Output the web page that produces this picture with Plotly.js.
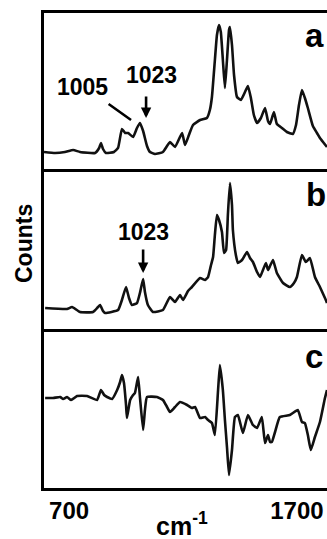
<!DOCTYPE html>
<html>
<head>
<meta charset="utf-8">
<script src="https://cdn.plot.ly/plotly-3.0.1.min.js"></script>
<style>html,body{margin:0;padding:0;background:#fff;}#chart{width:327px;height:539px;}</style>
</head>
<body>
<div id="chart"></div>
<script>
// Wavenumbers (cm^-1) and counts, panel a
const waveA = [590,639,682,718,748,814,832,840,849,862,897,915,932,946,959,981,998,1011,1025,1042,1055,1077,1112,1143,1165,1196,1209,1226,1244,1275,1305,1318,1327,1340,1349,1358,1366,1375,1384,1393,1402,1406,1415,1424,1437,1454,1472,1485,1498,1511,1525,1542,1560,1573,1582,1599,1612,1634,1656,1682,1696,1709,1722,1735,1748,1770,1788,1801,1818,1832];
const countsA = [17,16,17,19,17,16,21,26,20,16,17,21,40,36,36,32,41,46,38,23,17,15,17,27,22,36,24,34,44,49,51,59,72,109,134,144,137,109,81,109,139,142,124,94,72,69,77,83,71,54,46,51,61,48,45,57,45,41,37,35,44,64,79,71,61,43,36,31,26,22];

// Panel b
const waveB = [595,691,713,748,805,827,836,849,858,915,932,950,963,976,998,1011,1025,1033,1046,1068,1112,1143,1165,1187,1200,1222,1239,1275,1297,1310,1323,1332,1340,1349,1358,1371,1380,1389,1397,1406,1415,1419,1432,1441,1459,1481,1494,1507,1525,1538,1551,1564,1573,1582,1595,1612,1639,1669,1687,1700,1722,1739,1757,1779,1801,1823,1832];
const countsB = [21,20,22,17,17,22,24,18,16,19,29,42,31,24,26,36,50,37,24,17,19,32,27,34,29,38,42,51,49,52,64,72,94,114,109,97,76,79,114,146,124,99,74,66,69,77,71,67,57,52,59,66,59,63,69,56,46,42,46,52,74,67,71,52,42,31,26];

// Panel c (difference spectrum)
const waveC = [595,630,661,674,691,709,735,779,823,840,854,867,889,911,924,932,941,950,954,968,981,989,1003,1011,1025,1033,1042,1086,1112,1130,1143,1165,1187,1218,1239,1253,1275,1297,1310,1327,1340,1354,1362,1375,1384,1393,1402,1415,1428,1441,1463,1485,1507,1525,1546,1560,1573,1582,1590,1604,1625,1669,1704,1722,1735,1748,1761,1779,1801,1823,1832];
const countsC = [0,0,1,-1,1,-2,2,2,-2,8,3,1,-1,8,16,23,15,-7,-20,-2,3,5,21,1,-32,-12,1,1,-2,-9,-14,-9,-4,-7,-10,-9,-20,-19,-22,-25,-37,8,33,8,-22,-49,-77,-52,-19,-17,-35,-17,-27,-30,-19,-45,-37,-44,-44,-34,-19,-17,-12,-24,-25,-37,-52,-39,-24,0,8];

const tickVals = [700, 1700];
const tickText = ['700', '1700'];
const panelLetters = ['a', 'b', 'c'];
const peakLabelsA = ['1005', '1023'];
const peakLabelsB = ['1023'];

const FONT = 'Liberation Sans, Arial, Helvetica, sans-serif';
const lineStyle = {color: '#111', width: 2.6, shape: 'spline', smoothing: 0.4};
const txt = (s) => ({family: FONT, size: s, color: '#000', weight: 'bold'});

const traces = [
  {x: waveA, y: countsA, xaxis: 'x', yaxis: 'y', mode: 'lines', line: lineStyle, hoverinfo: 'skip'},
  {x: waveB, y: countsB, xaxis: 'x2', yaxis: 'y2', mode: 'lines', line: lineStyle, hoverinfo: 'skip'},
  {x: waveC, y: countsC, xaxis: 'x3', yaxis: 'y3', mode: 'lines', line: lineStyle, hoverinfo: 'skip'}
];

const xr = [590, 1832];
const axBase = {showline: true, linecolor: '#000', linewidth: 2.6, showgrid: false, zeroline: false, ticks: '', fixedrange: true};

const layout = {
  width: 327, height: 539,
  margin: {l: 44, r: 0, t: 13, b: 51},
  paper_bgcolor: '#fff', plot_bgcolor: '#fff',
  showlegend: false,
  font: {family: FONT, color: '#000', size: 22},
  xaxis: Object.assign({}, axBase, {anchor: 'y', range: xr, mirror: true, showticklabels: false}),
  xaxis2: Object.assign({}, axBase, {anchor: 'y2', range: xr, showticklabels: false}),
  xaxis3: Object.assign({}, axBase, {anchor: 'y3', range: xr, tickmode: 'array', tickvals: tickVals, ticktext: tickText, tickfont: txt(24)}),
  yaxis: Object.assign({}, axBase, {domain: [0.6716, 1], range: [0, 156], showticklabels: false}),
  yaxis2: Object.assign({}, axBase, {domain: [0.3347, 0.6695], range: [0, 159], showticklabels: false}),
  yaxis3: Object.assign({}, axBase, {domain: [0, 0.3326], range: [-90, 68], showticklabels: false}),
  annotations: [
    // panel letters
    {xref: 'x', yref: 'y', x: 1779, y: 134, text: panelLetters[0], showarrow: false, font: txt(33)},
    {xref: 'x2', yref: 'y2', x: 1783, y: 134, text: panelLetters[1], showarrow: false, font: txt(33)},
    {xref: 'x3', yref: 'y3', x: 1775, y: 42, text: panelLetters[2], showarrow: false, font: txt(33)},
    // panel a peak labels
    {xref: 'x', yref: 'y', x: 761, y: 82, text: peakLabelsA[0], showarrow: false, font: txt(23)},
    {xref: 'x', yref: 'y', x: 1060, y: 94, text: peakLabelsA[1], showarrow: false, font: txt(23)},
    {xref: 'x', yref: 'y', axref: 'x', ayref: 'y', x: 972, y: 49, ax: 867, ay: 66, text: '', showarrow: true, arrowhead: 0, arrowwidth: 2.6, arrowcolor: '#000'},
    {xref: 'x', yref: 'y', axref: 'x', ayref: 'y', x: 1038, y: 51, ax: 1038, ay: 74, text: '', showarrow: true, arrowhead: 2, arrowsize: 0.8, arrowwidth: 2.6, arrowcolor: '#000'},
    // panel b
    {xref: 'x2', yref: 'y2', x: 1025, y: 97, text: peakLabelsB[0], showarrow: false, font: txt(23)},
    {xref: 'x2', yref: 'y2', axref: 'x2', ayref: 'y2', x: 1025, y: 56, ax: 1025, ay: 81, text: '', showarrow: true, arrowhead: 2, arrowsize: 0.8, arrowwidth: 2.6, arrowcolor: '#000'},
    // axis titles
    {xref: 'paper', yref: 'paper', x: -0.0707, y: 0.5158, xanchor: 'center', yanchor: 'middle', textangle: -90, text: 'Counts', showarrow: false, font: txt(23)},
    {xref: 'paper', yref: 'paper', x: 0.4876, y: -0.1135, xanchor: 'center', yanchor: 'bottom', text: 'cm<sup>-1</sup>', showarrow: false, font: txt(25)}
  ]
};

Plotly.newPlot('chart', traces, layout, {displayModeBar: false, staticPlot: true});
</script>
</body>
</html>
